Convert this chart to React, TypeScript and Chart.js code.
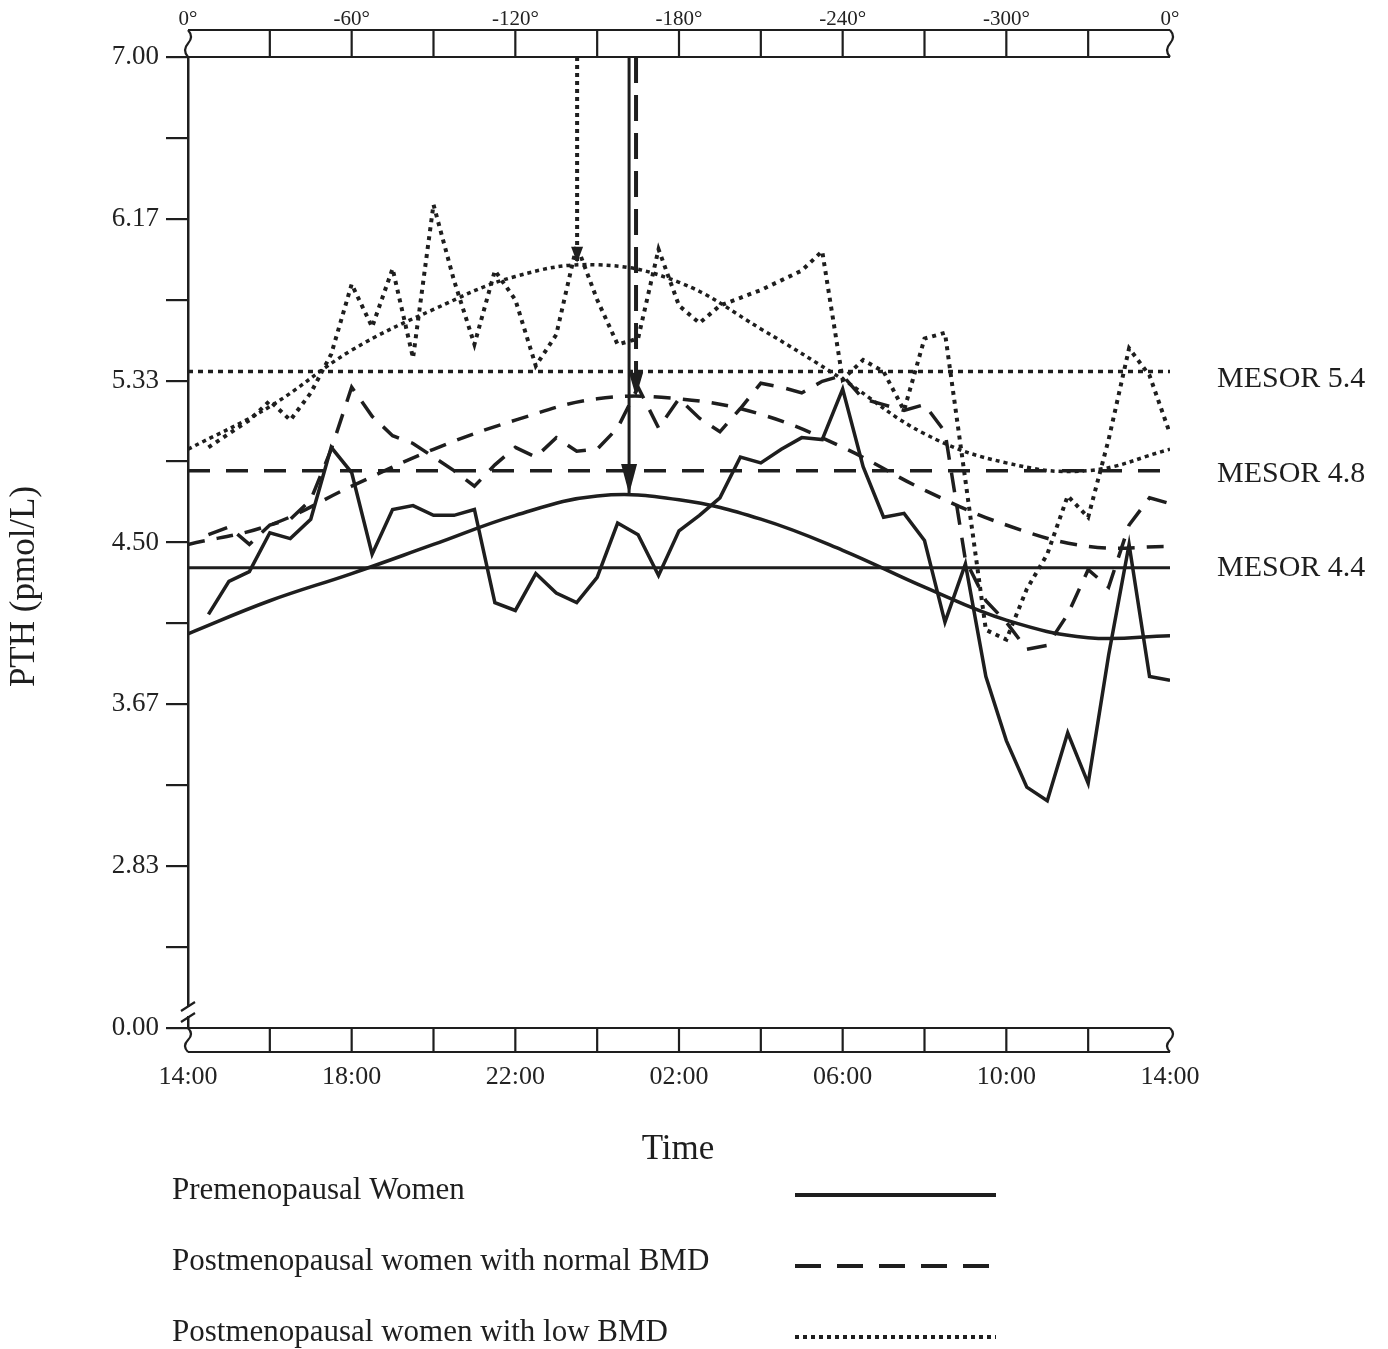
import React, { useEffect, useRef } from 'react';
import { Chart, registerables } from 'chart.js';

Chart.register(...registerables);

// ---------- data ----------
const sampleHours = [0.5, 1, 1.5, 2, 2.5, 3, 3.5, 4, 4.5, 5, 5.5, 6, 6.5, 7, 7.5, 8, 8.5, 9, 9.5, 10, 10.5, 11, 11.5, 12, 12.5, 13, 13.5, 14, 14.5, 15, 15.5, 16, 16.5, 17, 17.5, 18, 18.5, 19, 19.5, 20, 20.5, 21, 21.5, 22, 22.5, 23, 23.5, 24];

const premenopausal = [4.13, 4.30, 4.35, 4.55, 4.52, 4.62, 4.99, 4.86, 4.44, 4.67, 4.69, 4.64, 4.64, 4.67, 4.19, 4.15, 4.34, 4.24, 4.19, 4.32, 4.60, 4.54, 4.33, 4.56, 4.64, 4.73, 4.94, 4.91, 4.98, 5.04, 5.03, 5.29, 4.89, 4.63, 4.65, 4.51, 4.09, 4.39, 3.81, 3.48, 3.24, 3.17, 3.52, 3.26, 3.92, 4.49, 3.81, 3.79];
const normalBMD = [4.54, 4.58, 4.49, 4.59, 4.62, 4.72, 4.98, 5.30, 5.15, 5.05, 5.01, 4.94, 4.87, 4.79, 4.90, 4.99, 4.94, 5.04, 4.97, 4.98, 5.09, 5.30, 5.09, 5.24, 5.14, 5.07, 5.19, 5.32, 5.30, 5.27, 5.33, 5.36, 5.24, 5.21, 5.18, 5.21, 5.07, 4.41, 4.20, 4.09, 3.95, 3.97, 4.13, 4.36, 4.27, 4.59, 4.73, 4.70];
const lowBMD = [4.99, 5.06, 5.13, 5.23, 5.13, 5.27, 5.47, 5.83, 5.61, 5.91, 5.45, 6.24, 5.85, 5.52, 5.90, 5.75, 5.41, 5.57, 6.03, 5.75, 5.52, 5.55, 6.01, 5.72, 5.63, 5.72, 5.76, 5.80, 5.85, 5.90, 6.00, 5.34, 5.44, 5.38, 5.18, 5.55, 5.58, 4.82, 4.05, 4.00, 4.26, 4.44, 4.74, 4.63, 5.03, 5.50, 5.36, 5.06];

// cosinor fitted curves, read every 2 hours
const fitHours = [0, 2, 4, 6, 8, 10, 12, 14, 16, 18, 20, 22, 24];
const premenopausalFit = [4.03, 4.20, 4.34, 4.49, 4.64, 4.74, 4.72, 4.62, 4.46, 4.27, 4.10, 4.01, 4.02];
const normalBMDFit = [4.49, 4.59, 4.79, 4.98, 5.13, 5.24, 5.24, 5.16, 4.99, 4.77, 4.59, 4.48, 4.48];
const lowBMDFit = [4.98, 5.20, 5.49, 5.70, 5.87, 5.93, 5.84, 5.60, 5.34, 5.06, 4.91, 4.87, 4.98];

const groupNames = ['Premenopausal Women', 'Postmenopausal women with normal BMD', 'Postmenopausal women with low BMD'];
const mesors = [4.37, 4.87, 5.38];
const mesorLabels = ['MESOR 4.4', 'MESOR 4.8', 'MESOR 5.4'];
const acrophaseHours = [10.78, 10.95, 9.51];
const acrophasePeaks = [4.75, 5.25, 5.94];
const arrowStart = 7;

const bottomTickHours = [0, 4, 8, 12, 16, 20, 24];
const bottomTickLabels = ['14:00', '18:00', '22:00', '02:00', '06:00', '10:00', '14:00'];
const bandHourDividers = [2, 4, 6, 8, 10, 12, 14, 16, 18, 20, 22];
const topTickDegrees = [0, 60, 120, 180, 240, 300, 360];
const topTickLabels = ['0°', '-60°', '-120°', '-180°', '-240°', '-300°', '0°'];
const bandDegreeDividers = [30, 60, 90, 120, 150, 180, 210, 240, 270, 300, 330];
const yTickValues = [2, 2.41667, 2.83333, 3.25, 3.66667, 4.08333, 4.5, 4.91667, 5.33333, 5.75, 6.16667, 6.58333, 7];
const yTickLabels = ['0.00', '', '2.83', '', '3.67', '', '4.50', '', '5.33', '', '6.17', '', '7.00'];

// ---------- styling ----------
const INK = '#1e1e1e';
const SERIF = '"Liberation Serif", "Times New Roman", "DejaVu Serif", serif';

const rawDash = [[], [20, 13], [4, 5]];
const fitDash = [[], [17, 12], [4, 4]];
const mesorDash = [[], [22, 16], [5, 5]];
const arrowDash = [[], [26, 12], [4, 4]];
const legendDash = [[], [26, 16], [4, 4]];
const rawWidth = [3.5, 3.5, 4];
const fitWidth = [3.5, 3.5, 3.5];
const heads = [{ len: 30, half: 8 }, { len: 24, half: 7 }, { len: 16, half: 6 }];

const pts = (xs: number[], ys: number[]) => xs.map((x, i) => ({ x, y: ys[i] }));

function wavy(ctx: CanvasRenderingContext2D, xc: number, top: number, bottom: number) {
  const h = bottom - top;
  ctx.beginPath();
  ctx.moveTo(xc, top);
  ctx.quadraticCurveTo(xc + 6, top + h * 0.25, xc, top + h * 0.5);
  ctx.quadraticCurveTo(xc - 6, top + h * 0.75, xc, bottom);
  ctx.stroke();
}

const decor = {
  id: 'decor',
  afterDraw(chart: any) {
    const { ctx, chartArea: a, scales } = chart;
    const sx = scales.x, sx2 = scales.x2, sy = scales.y;
    ctx.save();
    ctx.strokeStyle = INK;
    ctx.fillStyle = INK;
    ctx.lineWidth = 2.2;
    ctx.setLineDash([]);

    // top degree band
    const tTop = a.top - 27, tBot = a.top;
    ctx.beginPath();
    ctx.moveTo(a.left, tTop); ctx.lineTo(a.right, tTop);
    ctx.moveTo(a.left, tBot); ctx.lineTo(a.right, tBot);
    bandDegreeDividers.forEach((d) => {
      const px = sx2.getPixelForValue(d);
      ctx.moveTo(px, tTop); ctx.lineTo(px, tBot);
    });
    ctx.stroke();
    wavy(ctx, a.left, tTop, tBot);
    wavy(ctx, a.right, tTop, tBot);

    // bottom time band
    const bTop = a.bottom, bBot = a.bottom + 24;
    ctx.beginPath();
    ctx.moveTo(a.left, bTop); ctx.lineTo(a.right, bTop);
    ctx.moveTo(a.left, bBot); ctx.lineTo(a.right, bBot);
    bandHourDividers.forEach((h) => {
      const px = sx.getPixelForValue(h);
      ctx.moveTo(px, bTop); ctx.lineTo(px, bBot);
    });
    ctx.stroke();
    wavy(ctx, a.left, bTop, bBot);
    wavy(ctx, a.right, bTop, bBot);

    // y-axis break
    const b1 = a.bottom - 22, b2 = a.bottom - 11;
    ctx.fillStyle = '#ffffff';
    ctx.fillRect(a.left - 3, b1 + 1, 6, b2 - b1 - 2);
    ctx.fillStyle = INK;
    ctx.beginPath();
    ctx.moveTo(a.left - 7, b1 + 5); ctx.lineTo(a.left + 7, b1 - 4);
    ctx.moveTo(a.left - 7, b2 + 5); ctx.lineTo(a.left + 7, b2 - 4);
    ctx.stroke();

    // arrowheads at acrophase
    chart.data.datasets.forEach((ds: any, i: number) => {
      if (!ds.arrowHead) return;
      const pt = chart.getDatasetMeta(i).data[1];
      const { len, half } = ds.arrowHead;
      ctx.beginPath();
      ctx.moveTo(pt.x, pt.y);
      ctx.lineTo(pt.x - half, pt.y - len);
      ctx.lineTo(pt.x + half, pt.y - len);
      ctx.closePath();
      ctx.fill();
    });

    // MESOR labels
    ctx.font = `30px ${SERIF}`;
    ctx.textAlign = 'left';
    ctx.textBaseline = 'middle';
    const nudge = [0, 3, 8];
    mesors.forEach((m, i) => {
      ctx.fillText(mesorLabels[i], a.right + 47, sy.getPixelForValue(m) + nudge[i]);
    });

    // y title
    ctx.save();
    ctx.translate(25, (a.top + a.bottom) / 2 + 44);
    ctx.rotate(-Math.PI / 2);
    ctx.textAlign = 'center';
    ctx.font = `35px ${SERIF}`;
    ctx.fillText('PTH (pmol/L)', 0, 0);
    ctx.restore();

    // x title
    ctx.font = `35px ${SERIF}`;
    ctx.textAlign = 'center';
    ctx.fillText('Time', 678, a.bottom + 122);

    // legend
    ctx.font = `31px ${SERIF}`;
    ctx.textAlign = 'left';
    groupNames.forEach((name, i) => {
      const cy = a.bottom + 163 + i * 71;
      ctx.fillText(name, 172, cy);
      ctx.beginPath();
      ctx.setLineDash(legendDash[i]);
      ctx.lineWidth = 4;
      ctx.moveTo(795, cy + 4);
      ctx.lineTo(996, cy + 4);
      ctx.stroke();
    });
    ctx.restore();
  },
};

export default function App() {
  const ref = useRef<HTMLCanvasElement>(null);

  useEffect(() => {
    document.body.style.margin = '0';
    const raws = [premenopausal, normalBMD, lowBMD];
    const fits = [premenopausalFit, normalBMDFit, lowBMDFit];
    const datasets: any[] = [];
    [0, 1, 2].forEach((g) => {
      datasets.push({
        label: groupNames[g] + ' mesor',
        data: [{ x: 0, y: mesors[g] }, { x: 24, y: mesors[g] }],
        borderColor: INK, borderWidth: g === 0 ? 3 : 3.5, borderDash: mesorDash[g],
        pointRadius: 0, borderCapStyle: 'butt',
      });
    });
    [0, 1, 2].forEach((g) => {
      datasets.push({
        label: groupNames[g] + ' fit',
        data: pts(fitHours, fits[g]),
        borderColor: INK, borderWidth: fitWidth[g], borderDash: fitDash[g],
        pointRadius: 0, tension: 0.4, borderCapStyle: 'butt',
      });
    });
    [0, 1, 2].forEach((g) => {
      datasets.push({
        label: groupNames[g],
        data: pts(sampleHours, raws[g]),
        borderColor: INK, borderWidth: rawWidth[g], borderDash: rawDash[g],
        pointRadius: 0, tension: 0, borderCapStyle: 'butt', borderJoinStyle: 'miter',
      });
    });
    [0, 1, 2].forEach((g) => {
      datasets.push({
        label: groupNames[g] + ' acrophase',
        data: [{ x: acrophaseHours[g], y: arrowStart }, { x: acrophaseHours[g], y: acrophasePeaks[g] }],
        borderColor: INK, borderWidth: g === 0 ? 3 : 4, borderDash: arrowDash[g],
        pointRadius: 0, borderCapStyle: 'butt',
        arrowHead: heads[g],
      });
    });

    const tickColor = '#222222';
    const chart = new Chart(ref.current as HTMLCanvasElement, {
      type: 'line',
      data: { datasets },
      plugins: [decor],
      options: {
        animation: false,
        responsive: false,
        devicePixelRatio: 1,
        layout: { padding: { left: 0, right: 218, top: 0, bottom: 0 } },
        plugins: { legend: { display: false }, tooltip: { enabled: false }, title: { display: false } },
        scales: {
          x: {
            type: 'linear', position: 'bottom', min: 0, max: 24,
            afterBuildTicks: (s: any) => { s.ticks = bottomTickHours.map((v) => ({ value: v })); },
            ticks: {
              callback: (_v: any, i: number) => bottomTickLabels[i],
              font: { family: SERIF, size: 26 }, color: tickColor, padding: 34,
              maxRotation: 0, autoSkip: false,
            },
            grid: { display: false, drawTicks: false },
            border: { display: false },
            afterFit: (s: any) => { s.height = 321; s.paddingLeft = 0; s.paddingRight = 0; },
          },
          x2: {
            type: 'linear', axis: 'x', position: 'top', min: 0, max: 360,
            afterBuildTicks: (s: any) => { s.ticks = topTickDegrees.map((v) => ({ value: v })); },
            ticks: {
              callback: (_v: any, i: number) => topTickLabels[i],
              font: { family: SERIF, size: 21 }, color: tickColor, padding: 25,
              maxRotation: 0, autoSkip: false,
            },
            grid: { display: false, drawTicks: false },
            border: { display: false },
            afterFit: (s: any) => { s.height = 57; s.paddingLeft = 0; s.paddingRight = 0; },
          },
          y: {
            type: 'linear', position: 'left', min: 2, max: 7,
            afterBuildTicks: (s: any) => { s.ticks = yTickValues.map((v) => ({ value: v })); },
            ticks: {
              callback: (_v: any, i: number) => yTickLabels[i],
              font: { family: SERIF, size: 27 }, color: tickColor, padding: 7, autoSkip: false,
            },
            grid: { drawOnChartArea: false, drawTicks: true, tickLength: 22, color: INK, lineWidth: 2.2 },
            border: { display: true, color: INK, width: 2.5 },
            afterFit: (s: any) => { s.width = 188; s.paddingTop = 0; s.paddingBottom = 0; },
          },
        },
      } as any,
    });
    return () => chart.destroy();
  }, []);

  return (
    <canvas
      ref={ref}
      width={1388}
      height={1349}
      style={{ display: 'block', width: '1388px', height: '1349px' }}
    />
  );
}
